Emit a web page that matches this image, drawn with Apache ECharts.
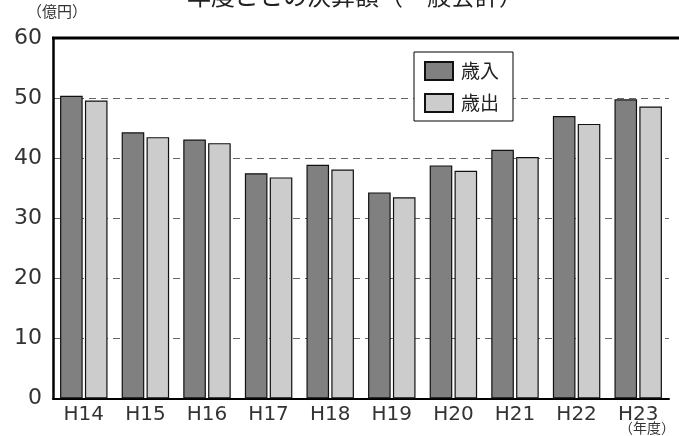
<!DOCTYPE html>
<html>
<head>
<meta charset="utf-8">
<script src="https://cdn.jsdelivr.net/npm/echarts@6/dist/echarts.min.js"></script>
<style>
html,body{margin:0;padding:0;background:#fff;}
#c{width:679px;height:436px;}
</style>
</head>
<body>
<div id="c"></div>
<script>
var categories = ['H14','H15','H16','H17','H18','H19','H20','H21','H22','H23'];
var revenue = [50.4, 44.3, 43.1, 37.5, 38.9, 34.3, 38.8, 41.4, 47.0, 49.8];
var expenditure = [49.6, 43.5, 42.5, 36.8, 38.1, 33.5, 37.9, 40.2, 45.7, 48.6];
var seriesNames = ['歳入', '歳出'];
var titleText = '年度ごとの決算額（一般会計）';
var yUnit = '（億円）';
var xUnit = '（年度）';

var FONT = '"Noto Sans CJK JP", "Noto Sans", sans-serif';
var NUMFONT = '"DejaVu Sans", sans-serif';
var chart = echarts.init(document.getElementById('c'));
chart.setOption({
  animation: false,
  backgroundColor: '#fff',
  title: {
    text: titleText,
    left: 182,
    top: -21,
    textStyle: {fontSize: 24, fontWeight: 'normal', color: '#222', fontFamily: FONT}
  },
  legend: {
    orient: 'vertical',
    left: 414,
    top: 52,
    padding: [9, 14, 8, 10],
    itemWidth: 28,
    itemHeight: 18,
    itemGap: 12,
    icon: 'rect',
    backgroundColor: '#fff',
    borderColor: '#000',
    borderWidth: 1,
    textStyle: {fontSize: 19, color: '#222', fontFamily: FONT, padding: [0, 0, 0, 3]},
    data: seriesNames
  },
  grid: {left: 53, right: 10, top: 38, bottom: 37.5, containLabel: false},
  xAxis: {
    type: 'category',
    data: categories,
    axisLine: {lineStyle: {color: '#000', width: 2}},
    axisTick: {inside: true, length: 6, lineStyle: {color: '#000', width: 2}},
    axisLabel: {fontSize: 20, color: '#333', margin: 6, fontFamily: NUMFONT}
  },
  yAxis: {
    type: 'value',
    min: 0, max: 60, interval: 10,
    axisLine: {show: true, lineStyle: {color: '#000', width: 2.5}},
    axisTick: {show: false},
    axisLabel: {fontSize: 22, color: '#333', margin: 11, fontFamily: NUMFONT},
    splitLine: {lineStyle: {color: '#666', type: [7, 5], width: 1}}
  },
  graphic: [
    {type: 'line', shape: {x1: 52, y1: 38, x2: 679, y2: 38}, style: {stroke: '#000', lineWidth: 3}, z: 100},
    {type: 'text', left: 27, top: 4, style: {text: yUnit, fontSize: 15, fill: '#333', fontFamily: FONT}},
    {type: 'text', left: 619, top: 421, style: {text: xUnit, fontSize: 14, fill: '#333', fontFamily: FONT}}
  ],
  series: [
    {
      name: seriesNames[0], type: 'bar', data: revenue,
      barWidth: 22.6, barGap: '10%',
      itemStyle: {color: '#808080', borderColor: '#111', borderWidth: 1.2}
    },
    {
      name: seriesNames[1], type: 'bar', data: expenditure,
      barWidth: 22.6, barGap: '10%',
      itemStyle: {color: '#cccccc', borderColor: '#111', borderWidth: 1.2}
    }
  ]
});
</script>
</body>
</html>
